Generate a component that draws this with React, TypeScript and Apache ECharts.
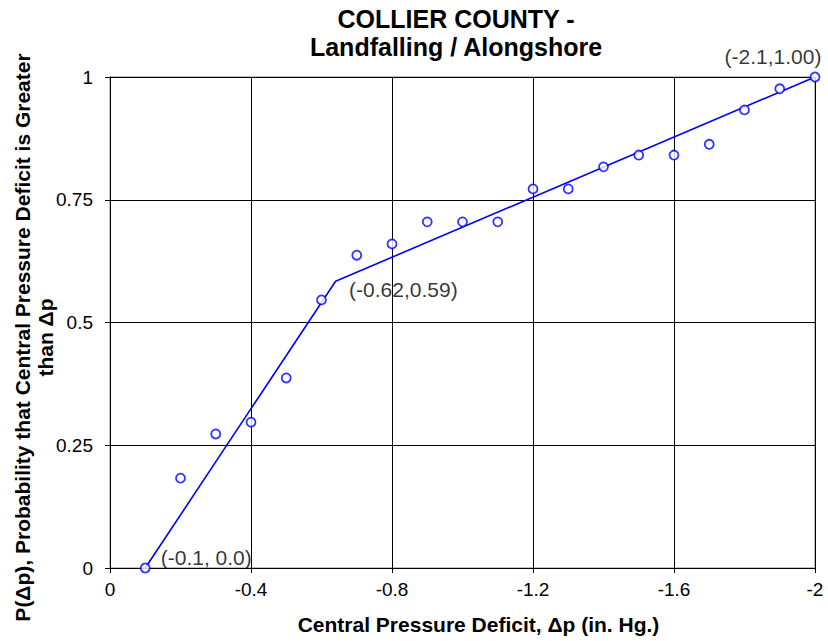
import React, { useEffect, useRef } from "react";
import * as echarts from "echarts";

const deficits = [-0.1, -0.2, -0.3, -0.4, -0.5, -0.6, -0.7, -0.8, -0.9, -1.0, -1.1, -1.2, -1.3, -1.4, -1.5, -1.6, -1.7, -1.8, -1.9, -2.0];
const probabilities = [0.0, 0.183, 0.273, 0.297, 0.387, 0.546, 0.637, 0.66, 0.705, 0.705, 0.705, 0.772, 0.772, 0.817, 0.841, 0.841, 0.863, 0.933, 0.976, 1.0];
const fitX = [-0.1, -0.64, -2.0];
const fitY = [0.0, 0.584, 1.0];
const fitLabels = ["(-0.1, 0.0)", "(-0.62,0.59)", "(-2.1,1.00)"];
const xTicks = [0, -0.4, -0.8, -1.2, -1.6, -2];
const yTicks = [0, 0.25, 0.5, 0.75, 1];

const FONT = "'Liberation Sans', Arial, sans-serif";

export default function App() {
  const ref = useRef<HTMLDivElement>(null);
  useEffect(() => {
    if (!ref.current) return;
    const chart = echarts.init(ref.current, undefined, { renderer: "svg" });
    const labelCfg = [
      { position: "right", offset: [10, -11] },
      { position: "right", offset: [8, 8] },
      { position: "top", offset: [-42, -5] },
    ];
    chart.setOption({
      animation: false,
      backgroundColor: "#fff",
      textStyle: { fontFamily: FONT },
      title: {
        text: "COLLIER COUNTY -\nLandfalling / Alongshore",
        left: 451,
        textAlign: "center",
        top: 0,
        textStyle: { fontFamily: FONT, fontSize: 25, fontWeight: "bold", color: "#000", lineHeight: 28 },
      },
      grid: {
        left: 110,
        right: 13,
        top: 77,
        bottom: 73,
        show: true,
        borderColor: "#808080",
        borderWidth: 1,
        containLabel: false,
        outerBoundsMode: "none",
      },
      xAxis: {
        type: "value",
        inverse: true,
        min: -2,
        max: 0,
        interval: 0.4,
        name: "Central Pressure Deficit, \u0394p (in. Hg.)",
        nameLocation: "middle",
        nameGap: 46,
        nameMoveOverlap: false,
        nameTextStyle: { fontFamily: FONT, fontSize: 21, fontWeight: "bold", color: "#000", padding: [0, 0, 0, 32] },
        axisLine: { show: true, lineStyle: { color: "#000", width: 1 } },
        axisTick: { show: true, length: 5, lineStyle: { color: "#000" } },
        axisLabel: {
          fontFamily: FONT,
          fontSize: 19,
          color: "#000",
          margin: 12,
          formatter: (v: number) => {
            const t = xTicks.find((k) => Math.abs(k - v) < 1e-6);
            return t === undefined ? "" : String(t === 0 ? 0 : t);
          },
        },
        splitLine: { show: true, lineStyle: { color: "#000", width: 1 } },
      },
      yAxis: {
        type: "value",
        min: 0,
        max: 1,
        interval: 0.25,
        name: "P(\u0394p), Probability that Central Pressure Deficit is Greater\nthan \u0394p",
        nameLocation: "middle",
        nameRotate: 90,
        nameGap: 53,
        nameMoveOverlap: false,
        nameTextStyle: { fontFamily: FONT, fontSize: 21, fontWeight: "bold", color: "#000", lineHeight: 23, padding: [0, 30, 0, 0] },
        axisLine: { show: true, lineStyle: { color: "#000", width: 1 } },
        axisTick: { show: true, length: 5, lineStyle: { color: "#000" } },
        axisLabel: {
          fontFamily: FONT,
          fontSize: 19,
          color: "#000",
          margin: 17,
          formatter: (v: number) => {
            const t = yTicks.find((k) => Math.abs(k - v) < 1e-6);
            return t === undefined ? "" : String(t);
          },
        },
        splitLine: { show: true, lineStyle: { color: "#000", width: 1 } },
      },
      series: [
        {
          type: "line",
          data: fitX.map((x, i) => [x, fitY[i]]),
          showSymbol: false,
          symbol: "none",
          lineStyle: { color: "#0000ff", width: 1.6 },
          z: 3,
        },
        {
          type: "scatter",
          data: fitX.map((x, i) => ({
            value: [x, fitY[i]],
            label: {
              show: true,
              formatter: fitLabels[i],
              position: labelCfg[i].position,
              offset: labelCfg[i].offset,
              fontFamily: FONT,
              fontSize: 21,
              color: "#000",
            },
          })),
          symbol: "circle",
          symbolSize: 1,
          itemStyle: { color: "transparent" },
          z: 5,
        },
        {
          type: "scatter",
          data: deficits.map((x, i) => [x, probabilities[i]]),
          symbol: "circle",
          symbolSize: 9,
          itemStyle: { color: "#fff", borderColor: "#0000ff", borderWidth: 1.8 },
          z: 4,
        },
      ],
    });
    return () => chart.dispose();
  }, []);
  return <div ref={ref} style={{ position: "fixed", left: 0, top: 0, width: 828, height: 641 }} />;
}
